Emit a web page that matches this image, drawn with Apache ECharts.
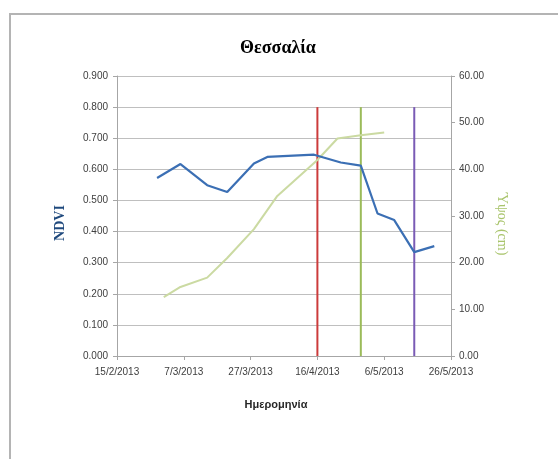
<!DOCTYPE html>
<html>
<head>
<meta charset="utf-8">
<script src="https://cdn.jsdelivr.net/npm/echarts@6/dist/echarts.min.js"></script>
<style>
  html, body { margin: 0; padding: 0; background: #ffffff; }
  #chart { width: 558px; height: 459px; }
</style>
</head>
<body>
<div id="chart"></div>
<script>
// NDVI observations (left axis)
const ndviDates = ['2013-02-27', '2013-03-06', '2013-03-14', '2013-03-20', '2013-03-28', '2013-04-01',
                   '2013-04-15', '2013-04-23', '2013-04-29', '2013-05-04', '2013-05-09', '2013-05-15', '2013-05-21'];
const ndviValues = [0.572, 0.617, 0.549, 0.527, 0.619, 0.640, 0.647, 0.622, 0.612, 0.458, 0.437, 0.334, 0.353];

// Plant height in cm (right axis)
const heightDates = ['2013-03-01', '2013-03-06', '2013-03-14', '2013-03-20', '2013-03-28', '2013-04-04',
                     '2013-04-09', '2013-04-16', '2013-04-22', '2013-04-29', '2013-05-06'];
const heightValues = [12.6, 14.8, 16.8, 21.0, 27.2, 34.3, 37.5, 42.0, 46.6, 47.3, 47.9];

// Vertical marker lines (date, colour), drawn from 0 up to markerTop on the NDVI axis
const markerDates = ['2013-04-16', '2013-04-29', '2013-05-15'];
const markerColors = ['#cc3b3b', '#9bbb59', '#7a5bb5'];
const markerTop = 0.8;

// Axis ranges
const startDate = '2013-02-15';
const dayRange = [0, 100, 20];
const ndviRange = [0, 0.9, 0.1];
const heightRange = [0, 60, 10];

const DAY = 86400000;
const t0 = Date.parse(startDate + 'T00:00:00Z');
const toDay = s => Math.round((Date.parse(s + 'T00:00:00Z') - t0) / DAY);
const dayLabel = d => {
  const dt = new Date(t0 + d * DAY);
  return dt.getUTCDate() + '/' + (dt.getUTCMonth() + 1) + '/' + dt.getUTCFullYear();
};

const labelFont = { color: '#404040', fontSize: 10, fontFamily: 'Liberation Sans' };

const series = [];
markerDates.forEach((d, i) => {
  series.push({
    type: 'line', yAxisIndex: 0, symbol: 'none', silent: true, z: 1,
    lineStyle: { color: markerColors[i], width: 2 },
    data: [[toDay(d), 0], [toDay(d), markerTop]]
  });
});
series.push({
  type: 'line', yAxisIndex: 1, symbol: 'none', z: 2,
  lineStyle: { color: '#cbdaa2', width: 2 },
  data: heightDates.map((d, i) => [toDay(d), heightValues[i]])
});
series.push({
  type: 'line', yAxisIndex: 0, symbol: 'none', z: 3,
  lineStyle: { color: '#3b6fb4', width: 2.2 },
  data: ndviDates.map((d, i) => [toDay(d), ndviValues[i]])
});

const chart = echarts.init(document.getElementById('chart'), null, { renderer: 'canvas' });
chart.setOption({
  animation: false,
  backgroundColor: '#ffffff',
  grid: { left: 117, right: 107, top: 76, bottom: 103 },
  xAxis: {
    type: 'value', min: dayRange[0], max: dayRange[1], interval: dayRange[2],
    axisLine: { show: true, lineStyle: { color: '#a6a6a6', width: 1 } },
    axisTick: { show: true, length: 4, lineStyle: { color: '#a6a6a6' } },
    splitLine: { show: false },
    axisLabel: Object.assign({ margin: 11, formatter: v => dayLabel(v) }, labelFont)
  },
  yAxis: [
    {
      type: 'value', min: ndviRange[0], max: ndviRange[1], interval: ndviRange[2],
      axisLine: { show: true, lineStyle: { color: '#a6a6a6' } },
      axisTick: { show: true, length: 4, lineStyle: { color: '#a6a6a6' } },
      splitLine: { show: true, lineStyle: { color: '#bfbfbf', width: 1 } },
      axisLabel: Object.assign({ margin: 9, formatter: v => v.toFixed(3) }, labelFont)
    },
    {
      type: 'value', position: 'right', min: heightRange[0], max: heightRange[1], interval: heightRange[2],
      axisLine: { show: true, lineStyle: { color: '#a6a6a6' } },
      axisTick: { show: true, length: 4, lineStyle: { color: '#a6a6a6' } },
      splitLine: { show: false },
      axisLabel: Object.assign({ margin: 8, formatter: v => v.toFixed(2) }, labelFont)
    }
  ],
  graphic: [
    // chart frame (top and left edges)
    { type: 'polyline', silent: true, shape: { points: [[10, 459], [10, 14], [558, 14]] },
      style: { stroke: '#b4b4b4', lineWidth: 2, fill: null } },
    { type: 'text', silent: true, x: 278, y: 48,
      style: { text: 'Θεσσαλία', font: 'bold 18px "Liberation Serif"', fill: '#000000', align: 'center', verticalAlign: 'middle' } },
    { type: 'text', silent: true, x: 60, y: 223, rotation: Math.PI / 2,
      style: { text: 'NDVI', font: 'bold 14px "Liberation Serif"', fill: '#1f497d', align: 'center', verticalAlign: 'middle' } },
    { type: 'text', silent: true, x: 502, y: 224, rotation: -Math.PI / 2,
      style: { text: 'Ύψος (cm)', font: '14px "Liberation Serif"', fill: '#a9c46c', align: 'center', verticalAlign: 'middle' } },
    { type: 'text', silent: true, x: 276, y: 405,
      style: { text: 'Ημερομηνία', font: 'bold 11px "Liberation Sans"', fill: '#262626', align: 'center', verticalAlign: 'middle' } }
  ],
  series: series
});
</script>
</body>
</html>
